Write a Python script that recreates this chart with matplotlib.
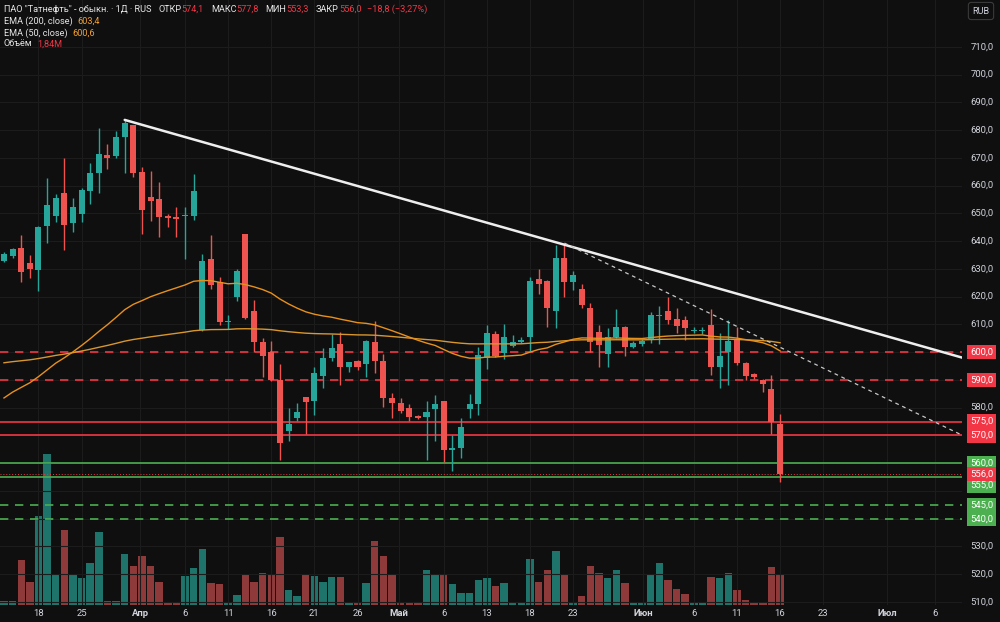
import matplotlib
matplotlib.use("Agg")
import matplotlib.pyplot as plt
import matplotlib.transforms as mtrans
import numpy as np

plt.rcParams['font.family'] = ['Roboto', 'DejaVu Sans']

# daily candles, ПАО "Татнефть"
opens = [633.0, 634.7, 637.6, 632.3, 629.6, 645.3, 648.9, 657.4, 646.5, 649.8,
         658.2, 664.6, 671.0, 670.6, 677.5, 681.9, 665.1, 656.0, 655.1, 649.0,
         648.8, 648.9, 649.1, 608.0, 633.5, 625.4, 610.9, 619.8, 642.5, 614.9,
         603.6, 600.0, 590.0, 571.6, 576.4, 583.9, 582.5, 591.4, 597.8, 603.0,
         594.6, 597.0, 595.6, 603.6, 597.0, 583.4, 581.6, 580.0, 576.9, 576.5,
         579.4, 582.3, 564.6, 565.4, 579.7, 581.4, 597.8, 606.5, 599.6, 602.3,
         603.5, 605.6, 626.4, 625.7, 614.9, 634.1, 625.4, 622.8, 615.9, 607.3,
         599.3, 605.4, 609.0, 601.8, 602.9, 604.9, 613.1, 615.0, 612.1, 611.5,
         607.7, 607.6, 609.8, 594.6, 599.9, 604.4, 596.0, 592.3, 590.0, 586.8,
         574.1]
highs = [636.0, 637.5, 642.3, 634.9, 645.5, 662.8, 657.0, 670.0, 655.6, 659.0,
         668.3, 680.9, 675.0, 679.6, 683.7, 682.0, 666.9, 665.4, 661.3, 649.8,
         652.2, 652.2, 664.1, 635.3, 642.3, 627.0, 613.4, 629.8, 642.7, 618.8,
         605.0, 604.2, 595.8, 579.8, 581.7, 584.0, 594.8, 601.5, 606.6, 607.4,
         596.6, 597.2, 604.3, 611.4, 599.4, 585.4, 583.5, 581.4, 577.2, 582.5,
         584.6, 582.5, 570.3, 576.2, 585.0, 601.8, 609.8, 607.8, 610.2, 606.2,
         605.4, 627.2, 630.0, 626.0, 638.6, 639.2, 629.4, 624.6, 617.6, 609.7,
         608.8, 615.7, 609.3, 604.2, 604.8, 614.3, 616.7, 620.0, 615.8, 612.9,
         609.1, 609.1, 615.7, 606.8, 611.6, 609.0, 596.3, 592.6, 590.4, 591.6,
         577.8]
lows = [632.5, 634.0, 625.2, 626.9, 622.0, 639.5, 646.8, 636.8, 643.2, 646.8,
        653.4, 657.3, 666.0, 670.0, 664.7, 663.3, 642.6, 647.3, 641.6, 645.0,
        641.6, 633.5, 647.7, 607.5, 622.8, 609.9, 608.4, 618.6, 612.0, 600.2,
        591.0, 589.5, 561.2, 567.9, 575.2, 570.5, 577.4, 587.0, 597.0, 588.0,
        593.0, 593.4, 591.0, 592.4, 580.2, 576.2, 578.2, 575.3, 576.0, 561.2,
        568.0, 560.3, 557.3, 562.0, 576.2, 577.2, 593.9, 598.3, 597.6, 602.0,
        603.3, 600.6, 620.9, 609.2, 608.6, 619.8, 622.4, 615.8, 600.1, 594.6,
        594.6, 605.0, 598.7, 601.4, 602.2, 603.2, 602.9, 610.0, 606.8, 604.4,
        606.8, 606.6, 591.8, 587.0, 588.2, 595.5, 589.8, 590.4, 585.8, 570.5,
        553.3]
closes = [635.4, 637.2, 628.9, 629.9, 645.0, 653.2, 655.7, 645.7, 652.2, 658.5,
          664.7, 671.4, 669.8, 677.5, 682.7, 664.7, 651.3, 654.3, 648.6, 648.5,
          648.1, 649.6, 657.9, 632.9, 624.1, 610.9, 611.4, 629.4, 612.4, 603.7,
          598.8, 589.8, 567.2, 574.0, 578.5, 582.2, 592.4, 598.0, 601.5, 594.6,
          596.4, 594.8, 604.0, 596.7, 583.4, 581.6, 578.8, 576.8, 576.4, 578.6,
          581.4, 564.8, 565.3, 572.9, 581.4, 599.0, 607.0, 598.7, 605.4, 603.5,
          604.4, 625.7, 624.5, 615.8, 634.1, 625.4, 627.8, 616.9, 603.7, 602.5,
          605.4, 609.0, 602.0, 603.2, 604.0, 613.3, 613.4, 611.7, 609.6, 608.6,
          608.0, 608.0, 594.8, 598.8, 604.2, 596.0, 591.4, 591.1, 588.6, 574.8,
          556.0]
# volume, millions of shares
volumes = [0.24, 0.24, 2.73, 1.41, 5.38, 9.18, 1.90, 4.53, 1.82, 1.62,
           2.57, 4.41, 0.26, 0.26, 3.08, 2.35, 2.97, 2.39, 1.38, 0.12,
           0.16, 1.74, 2.26, 3.38, 1.34, 1.29, 0.12, 0.59, 1.86, 1.41,
           1.94, 1.82, 4.11, 0.89, 0.53, 1.82, 1.78, 1.41, 1.70, 1.70,
           0.12, 0.10, 1.32, 3.88, 2.97, 1.82, 0.16, 0.12, 0.10, 2.14,
           1.82, 1.86, 1.29, 0.75, 0.71, 1.50, 1.62, 1.14, 1.32, 0.10,
           0.12, 2.77, 1.41, 2.11, 3.26, 1.86, 0.12, 0.56, 2.37, 1.94,
           1.66, 2.11, 1.34, 0.10, 0.10, 1.86, 2.55, 1.50, 0.97, 0.65,
           0.10, 0.12, 1.70, 1.62, 1.94, 0.89, 0.32, 0.10, 0.12, 2.29,
           1.84]

# EMA starting value at the first visible bar, last value from legend
ema50_start = 583.5
ema200_last = 603.4

# date axis: label -> bar position
date_labels = ['18', '25', 'Апр', '6', '11', '16', '21', '26', 'Май', '6', '13',
               '18', '23', 'Июн', '6', '11', '16', '23', 'Июл', '6']
date_pos = [4, 9, 15.8, 21, 26, 31, 36, 41, 45.8, 51, 56, 61, 66, 74.1, 80, 85,
            90, 95, 102.4, 108]
months = {'Апр', 'Май', 'Июн', 'Июл'}

# drawn levels
red_dashed = [600, 590]
red_solid = [575, 570]
green_solid = [560, 555]
green_dashed = [545, 540]
last_price = 556.0

# trend lines (bar, price)
trend_main = [(14, 683.7), (111.5, 597.7)]
trend_dash = [(65, 639.3), (111.3, 569.8)]

BG = '#0f0f0f'
GRID = '#1c1c1c'
UP = '#26a69a'
DN = '#ef5350'
UP_V = '#1e736a'
DN_V = '#8e3a3a'
RED = '#f23645'
GREEN = '#4caf50'
TXT = '#d1d4dc'
ORANGE = '#f0a030'

o = np.array(opens); h = np.array(highs); l = np.array(lows); c = np.array(closes)
v = np.array(volumes)
x = np.arange(len(c))
up = c >= o


def ema(values, k, start):
    out = [start]
    for val in values[1:]:
        out.append(out[-1] + k * (val - out[-1]))
    return np.array(out)


k200 = 2 / 201
base = ema(c, k200, 0.0)
seed200 = (ema200_last - base[-1]) / (1 - k200) ** (len(c) - 1)
ema200 = ema(c, k200, seed200)
ema50 = ema(c, 2 / 51, ema50_start)

fig = plt.figure(figsize=(10, 6.22), dpi=100, facecolor=BG)
ax = fig.add_axes([0, 17 / 622, 0.962, 605 / 622])
axv = ax.twinx()
ax.set_zorder(axv.get_zorder() + 1)
ax.patch.set_visible(False)
axv.set_facecolor(BG)

ax.set_xlim(-0.46, 111.1)
ax.set_ylim(508.9, 726.9)
axv.set_ylim(0, 36.74)

for a in (ax, axv):
    for s in a.spines.values():
        s.set_visible(False)
    a.set_xticks([])
    a.set_yticks([])

# grid
for p in range(510, 720, 10):
    ax.axhline(p, color=GRID, lw=0.8, zorder=0)
for xp in date_pos:
    ax.axvline(xp, color=GRID, lw=0.8, zorder=0)

# volume
axv.bar(x, v, width=0.86, color=np.where(up, UP_V, DN_V), zorder=1)

# candles
cols = np.where(up, UP, DN)
ax.vlines(x, l, h, color=cols, lw=1.0, zorder=3)
body_lo = np.minimum(o, c)
body_h = np.maximum(np.abs(c - o), 0.35)
ax.bar(x, body_h, bottom=body_lo, width=0.7, color=cols, zorder=4)

# EMA lines
ax.plot(x, ema200, color='#d8962e', lw=1.0, zorder=5)
ax.plot(x, ema50, color='#e8901c', lw=1.0, zorder=5)

# levels
for p in red_dashed:
    ax.axhline(p, color=RED, lw=1.2, ls=(0, (5, 4)), zorder=2)
for p in red_solid:
    ax.axhline(p, color=RED, lw=1.2, zorder=2)
for p in green_solid:
    ax.axhline(p, color=GREEN, lw=1.2, zorder=2)
for p in green_dashed:
    ax.axhline(p, color=GREEN, lw=1.2, ls=(0, (5, 4)), zorder=2)
ax.axhline(last_price, color=RED, lw=0.7, ls=(0, (1, 2)), zorder=2)

# trend lines
ax.plot([p[0] for p in trend_main], [p[1] for p in trend_main],
        color='#eeeeee', lw=1.8, zorder=6, solid_capstyle='round')
ax.plot([p[0] for p in trend_dash], [p[1] for p in trend_dash],
        color='#c8c8c8', lw=0.9, ls=(0, (3, 3)), zorder=6)

# price scale
tr = mtrans.blended_transform_factory(fig.transFigure, ax.transData)
for p in range(510, 720, 10):
    if p in (600, 590, 570, 560, 550, 540):
        continue
    fig.text(0.982, p, f'{p},0', transform=tr, ha='center', va='center',
             color=TXT, fontsize=6.8)
# level badges: (price, colour, shown at) - the 555 badge is pushed down by the 556 one
badges = [(600, RED, 600), (590, RED, 590), (575, RED, 575), (570, RED, 570),
          (560, GREEN, 560), (545, GREEN, 545), (540, GREEN, 540),
          (555, GREEN, 551.9), (556, RED, 556)]
for p, col, yshow in badges:
    fig.text(0.9815, yshow, f'{p},0', transform=tr, ha='center', va='center',
             color='white', fontsize=6.8,
             bbox=dict(boxstyle='square,pad=0.28', fc=col, ec='none'))

fig.text(0.981, 1 - 11 / 622, 'RUB', ha='center', va='center', color=TXT,
         fontsize=6.5,
         bbox=dict(boxstyle='round,pad=0.45,rounding_size=0.3', fc=BG,
                   ec='#3a3a3a', lw=0.8))

# date labels
trx = mtrans.blended_transform_factory(ax.transData, fig.transFigure)
for lab, xp in zip(date_labels, date_pos):
    fig.text(xp, 1 - 613 / 622, lab, transform=trx, ha='center', va='center',
             color=TXT, fontsize=6.8,
             fontweight='bold' if lab in months else 'normal')

# legend header: pieces laid out one after another (text, colour, gap after in px)
W = '#e6e6e6'
header = [
    (9, [('ПАО "Татнефть" - обыкн. · 1Д · RUS', W, 7), ('ОТКР', W, 0),
         ('574,1', RED, 7), ('МАКС', W, 0), ('577,8', RED, 7),
         ('МИН', W, 0), ('553,3', RED, 7), ('ЗАКР', W, 0),
         ('556,0', RED, 6), ('−18,8 (−3,27%)', RED, 0)]),
    (21, [('EMA (200, close)', W, 5), ('603,4', ORANGE, 0)]),
    (33, [('EMA (50, close)', W, 5), ('600,6', ORANGE, 0)]),
    (44, [('Объём', W, 5), ('1,84M', RED, 0)]),
]
renderer = fig.canvas.get_renderer()
for ypx, parts in header:
    xpx = 4
    for txt, col, gap in parts:
        t = fig.text(xpx / 1000, 1 - ypx / 622, txt, ha='left', va='center',
                     color=col, fontsize=6.6)
        bb = t.get_window_extent(renderer=renderer)
        xpx = bb.x1 + gap

fig.savefig('out.png', dpi=100, facecolor=BG)
